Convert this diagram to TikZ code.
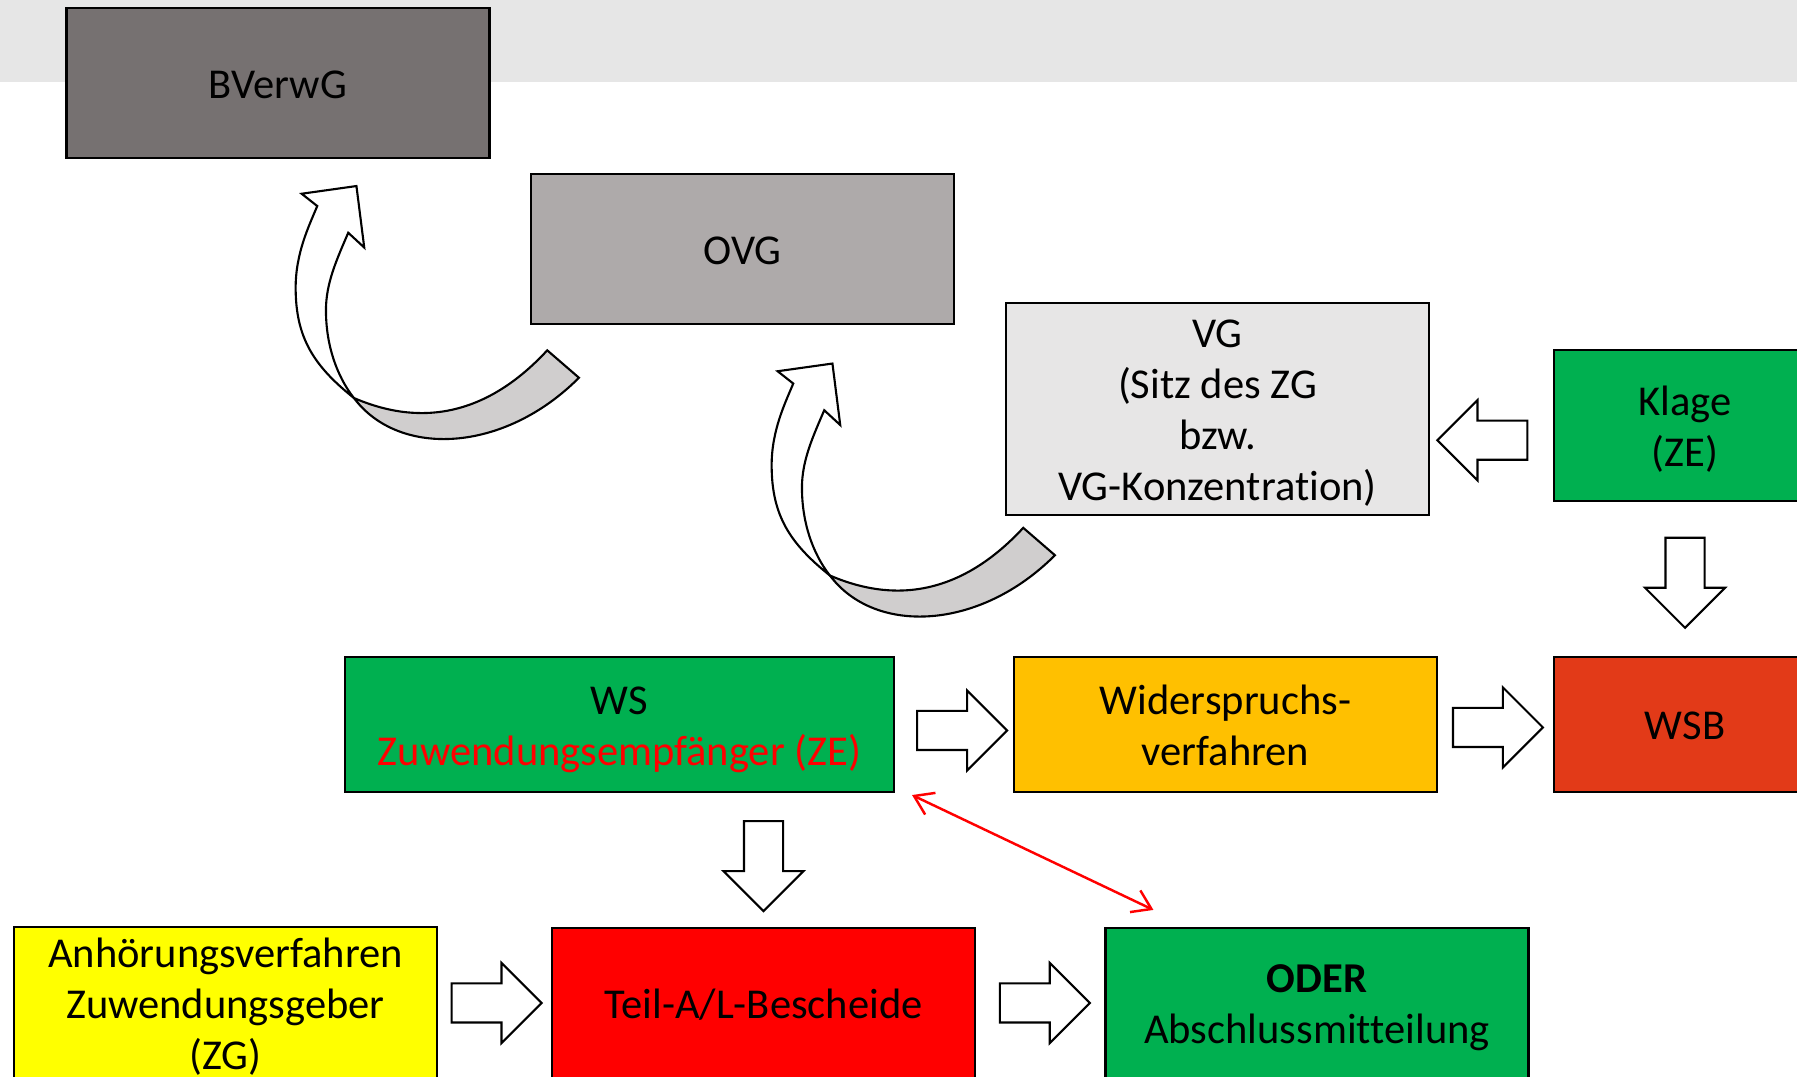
\documentclass[tikz,border=0pt]{standalone}
\usepackage{fontspec}
\setmainfont{Carlito}[Ligatures=NoCommon]
\usepackage{xcolor}
\usepackage{tikz}
\usetikzlibrary{calc, shapes.arrows, arrows.meta}

\definecolor{nenxam}{RGB}{230,230,230}
\definecolor{xamdam}{RGB}{118,113,113}
\definecolor{xamvua}{RGB}{174,170,170}
\definecolor{xamnhat}{RGB}{231,230,230}
\definecolor{xamcong}{RGB}{208,206,206}
\definecolor{xanh}{RGB}{0,176,80}
\definecolor{cam}{RGB}{255,192,0}
\definecolor{dogach}{RGB}{226,58,24}
\definecolor{vang}{RGB}{255,255,0}
\definecolor{do}{RGB}{255,0,0}

% thanh chống để căn dòng chữ theo chiều dọc
\newcommand{\chong}{\rule[-2.7pt]{0pt}{14pt}}

\begin{document}
\begin{tikzpicture}[font=\fontsize{12.1}{14.5}\selectfont,
    hop/.style={draw, line width=0.6pt, minimum width=#1, text width=#1,
        minimum height=1.5cm, inner sep=0pt, align=flush center,
        execute at begin node=\chong, execute at end node=\chong},
    hop/.default=4.23cm,
    muiten/.style={single arrow, draw, fill=white, line width=0.6pt,
        minimum height=0.9cm, minimum width=0.78cm, inner xsep=0pt, inner ysep=0.185cm,
        single arrow head extend=0.205cm, single arrow tip angle=90},
    pics/cong/.style={code={
        % mặt sau (xám)
        \draw[line width=0.6pt, fill=xamcong]
            (0,0) .. controls (0.45,-0.6) and (1.5,-0.55) .. (2.25,0.203)
            -- (1.933,0.477) .. controls (1.15,-0.37) and (0.4,-0.17) .. (0,0) -- cycle;
        % mặt trước (trắng) và đầu mũi tên
        \draw[line width=0.6pt, fill=white]
            (0,0) .. controls (-0.4,0.32) and (-0.583,0.6) .. (-0.583,1.103)
            .. controls (-0.583,1.45) and (-0.45,1.72) .. (-0.367,1.92)
            -- (-0.523,2.043) -- (0.025,2.12) -- (0.103,1.505) -- (-0.057,1.653)
            .. controls (-0.17,1.39) and (-0.28,1.15) .. (-0.28,0.88)
            .. controls (-0.28,0.45) and (-0.12,0.15) .. (0,0) -- cycle;
    }}]
    \useasboundingbox (0,0) rectangle (17.97,10.77);
    % 1. Nền xám phía trên
    \fill[nenxam] (0,9.953) rectangle (17.97,10.77);

    % 2. Các ô
    \node[hop, fill=xamdam] (bverwg) at (2.78,9.937) {BVerwG};
    \node[hop, fill=xamvua] (ovg) at (7.425,8.28) {OVG};
    \node[hop, fill=xamnhat, minimum height=2.12cm] (vg) at (12.175,6.68)
        {VG\\(Sitz des ZG\\bzw.\\VG-Konzentration)};
    \node[hop=2.62cm, fill=xanh, minimum height=1.51cm] (klage) at (16.85,6.515)
        {Klage\\(ZE)};
    \node[hop=5.49cm, fill=xanh, minimum height=1.35cm] (ws) at (6.195,3.525)
        {WS\\\textcolor{do}{Zuwendungsempfänger (ZE)}};
    \node[hop, fill=cam, minimum height=1.35cm] (wv) at (12.255,3.525)
        {Widerspruchs-\\verfahren};
    \node[hop=2.62cm, fill=dogach, minimum height=1.35cm] (wsb) at (16.85,3.525)
        {WSB};
    \node[hop, fill=vang] (anh) at (2.255,0.74)
        {Anhörungsverfahren\\Zuwendungsgeber\\(ZG)};
    \node[hop, fill=do] (teil) at (7.635,0.74) {Teil-A/L-Bescheide};
    \node[hop, fill=xanh] (oder) at (13.17,0.74) {\textbf{ODER}\\Abschlussmitteilung};

    % 3. Mũi tên khối
    \node[muiten] at ($(ws.east)!.5!(wv.west)+(-.016,-.06)$) {};
    \node[muiten] at ($(wv.east)!.5!(wsb.west)+(-.073,-.03)$) {};
    \node[muiten, rotate=-90] at ($(klage.south)!.5!(wsb.north)+(0,.06)$) {};
    \node[muiten, rotate=180] at ($(vg.east)!.5!(klage.west)+(.007,-.23)$) {};
    \node[muiten, rotate=-90] at ($(ws.south -| teil.north)!.5!(teil.north)+(0,.036)$) {};
    \node[muiten] at ($(anh.east)!.5!(teil.west)+(-.077,0)$) {};
    \node[muiten] at ($(teil.east)!.5!(oder.west)+(-.052,0)$) {};

    % 4. Mũi tên cong lên tòa trên
    \pic at ($(ovg.south west)+(-1.76,-.73)$) {cong};
    \pic at ($(vg.south west)+(-1.75,-.595)$) {cong};

    % 5. Mũi tên đỏ hai chiều
    \draw[do, line width=0.7pt, {Straight Barb[length=1.8mm,width=2.4mm]}-{Straight Barb[length=1.8mm,width=2.4mm]}]
        ($(ws.south east)+(.17,-.02)$) -- ($(oder.north west)+(.49,.17)$);
\end{tikzpicture}
\end{document}
